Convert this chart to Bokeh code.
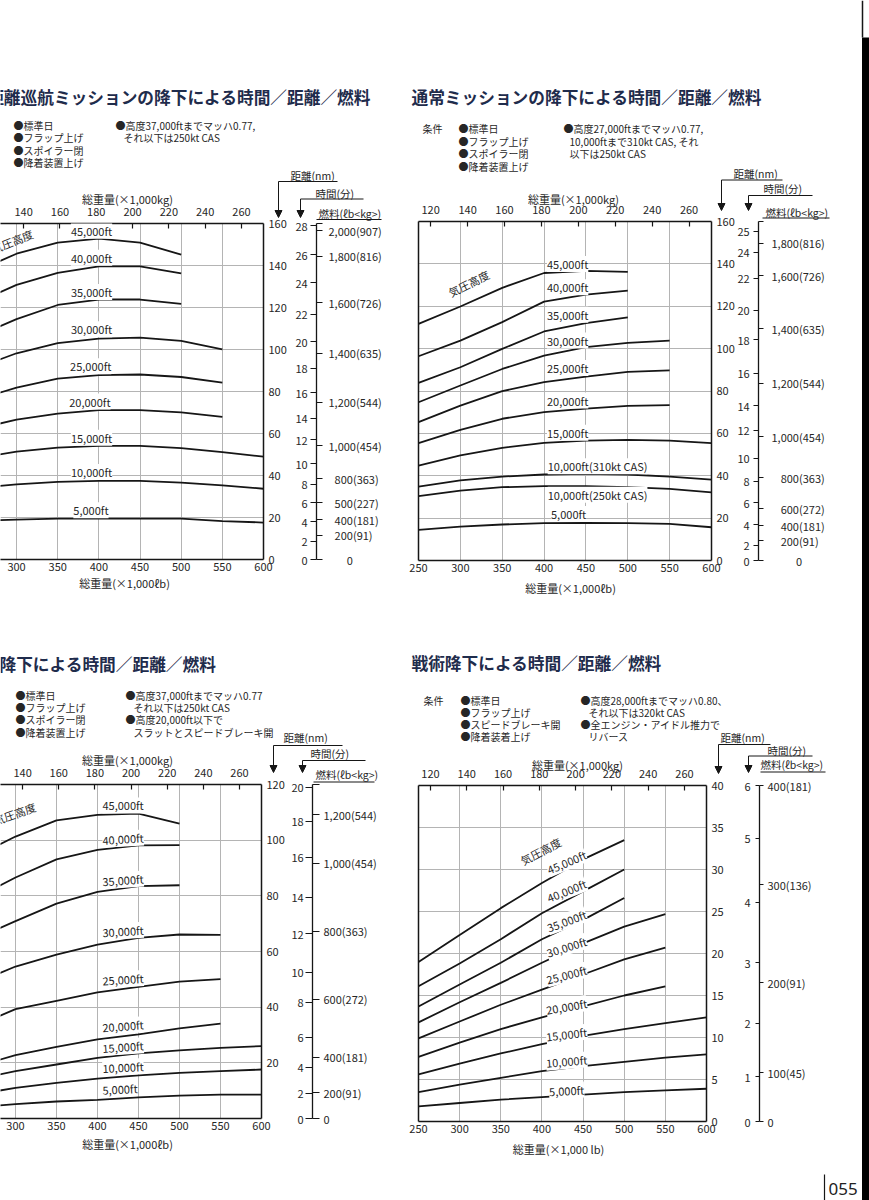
from bokeh.plotting import figure
from bokeh.models import (Range1d, LinearAxis, FixedTicker, CustomJSTickFormatter,
                          Label, Arrow, NormalHead, Grid, GridBox)
from bokeh.embed import file_html
from bokeh.resources import INLINE

KG_PER_KLB = 0.45359237
JP = "Noto Sans CJK JP"
INK = "#161616"
TXT = "#262626"
NAVY = "#1f2c4c"
GRIDC = "#b4b4b4"

# ---------------- shared axis values ----------------
LB_TICKS = [250, 300, 350, 400, 450, 500, 550, 600]
KG_TICKS = [120, 140, 160, 180, 200, 220, 240, 260]
LB_GRID = [300, 350, 400, 450, 500, 550]
W500 = [250, 300, 350, 400, 450, 500]
W550 = [250, 300, 350, 400, 450, 500, 550]
W600 = [250, 300, 350, 400, 450, 500, 550, 600]
ALT = ["45,000ft", "40,000ft", "35,000ft", "30,000ft", "25,000ft",
       "20,000ft", "15,000ft", "10,000ft", "5,000ft"]

# ---------------- panel A: long-range cruise (top-left) ----------------
A_45 = [137.0, 145.6, 150.9, 152.8, 150.9, 145.2]
A_40 = [122.0, 130.8, 136.5, 139.6, 139.6, 136.2]
A_35 = [106.0, 114.5, 121.2, 123.8, 123.8, 121.7]
A_30 = [91.0, 98.2, 103.0, 105.2, 105.7, 104.1, 100.1]
A_25 = [76.0, 81.8, 86.1, 87.8, 88.1, 86.9, 84.2]
A_20 = [62.0, 66.6, 69.5, 71.1, 71.1, 70.1, 67.9]
A_15 = [48.0, 51.4, 53.3, 54.1, 54.1, 53.0, 51.1, 49.0]
A_10 = [34.0, 35.8, 37.0, 37.4, 37.4, 36.6, 35.3, 33.7]
A_05 = [18.3, 19.0, 19.5, 19.5, 19.5, 19.5, 18.3, 17.6]
A_DIST = [0, 20, 40, 60, 80, 100, 120, 140, 160]
A_TIME = [0, 2, 4, 6, 8, 10, 12, 14, 16, 18, 20, 22, 24, 26, 28]
A_TIME_NM = [0, 8.8, 17.9, 27.0, 35.9, 45.5, 57.0, 67.2, 79.5, 91.0, 103.6, 116.9, 131.7, 145.1, 159.0]
A_FUEL = ["2,000(907)", "1,800(816)", "1,600(726)", "1,400(635)", "1,200(544)",
          "1,000(454)", "800(363)", "500(227)", "400(181)", "200(91)", "0"]
A_FUEL_NM = [156.5, 144.5, 122.2, 98.1, 74.9, 54.1, 38.5, 27.0, 19.0, 11.5, 0]

# ---------------- panel B: normal mission (top-right) ----------------
B_45 = [111.7, 119.9, 128.7, 135.7, 136.7, 136.2]
B_40 = [96.4, 103.8, 112.5, 122.2, 125.5, 127.4]
B_35 = [83.8, 91.2, 99.9, 108.1, 112.0, 114.8]
B_30 = [74.7, 82.6, 90.4, 96.7, 100.7, 102.7, 103.8]
B_25 = [65.3, 73.1, 79.9, 84.2, 86.8, 89.0, 89.7]
B_20 = [55.4, 61.7, 66.9, 70.0, 71.7, 73.0, 73.3]
B_15 = [44.8, 49.6, 53.2, 55.5, 56.6, 56.9, 56.6, 55.4]
B_10_310 = [34.9, 37.8, 39.6, 40.6, 40.9, 40.6, 39.6, 38.2]
B_10_250 = [30.4, 33.0, 34.6, 35.1, 35.1, 34.6, 33.8, 32.2]
B_05 = [14.5, 16.0, 17.0, 17.6, 17.7, 17.6, 17.3, 15.7]
B_NAMES = ["45,000ft", "40,000ft", "35,000ft", "30,000ft", "25,000ft", "20,000ft",
           "15,000ft", "10,000ft(310kt CAS)", "10,000ft(250kt CAS)", "5,000ft"]
B_DIST = [0, 20, 40, 60, 80, 100, 120, 140, 160]
B_TIME = [0, 2, 4, 6, 8, 10, 12, 14, 16, 18, 20, 22, 24, 25]
B_TIME_NM = [0, 7.1, 16.8, 27.2, 37.4, 48.3, 61.4, 73.1, 88.4, 104.2, 118.0, 133.2, 145.5, 155.4]
B_FUEL = ["1,800(816)", "1,600(726)", "1,400(635)", "1,200(544)", "1,000(454)",
          "800(363)", "600(272)", "400(181)", "200(91)", "0"]
B_FUEL_NM = [149.7, 134.5, 109.3, 83.7, 58.5, 39.0, 24.4, 16.5, 9.4, 0]

# ---------------- panel C: descent with slats/speed brake (bottom-left) ----------------
C_45 = [94.0, 101.3, 107.1, 109.1, 109.5, 105.9]
C_40 = [79.0, 86.6, 93.1, 96.5, 98.1, 98.2]
C_35 = [64.5, 70.9, 77.2, 81.4, 83.5, 83.8]
C_30 = [48.5, 54.6, 58.9, 62.5, 64.9, 66.1, 66.0]
C_25 = [33.0, 39.3, 42.3, 45.3, 47.3, 49.2, 50.1]
C_20 = [18.5, 22.8, 25.7, 28.4, 30.2, 32.4, 34.1]
C_15 = [14.0, 17.0, 19.4, 21.8, 23.4, 24.5, 25.4, 26.0]
C_10 = [8.5, 11.0, 12.8, 14.3, 15.5, 16.4, 17.0, 17.6]
C_05 = [4.0, 5.2, 6.1, 6.7, 7.6, 8.2, 8.6, 8.6]
C_DIST = [20, 40, 60, 80, 100, 120]
C_TIME = [0, 2, 4, 6, 8, 10, 12, 14, 16, 18, 20]
C_TIME_NM = [0, 9.1, 18.4, 29.2, 41.8, 52.6, 66.4, 79.5, 93.9, 106.8, 119.0]
C_FUEL = ["1,200(544)", "1,000(454)", "800(363)", "600(272)", "400(181)", "200(91)", "0"]
C_FUEL_NM = [109.2, 91.7, 67.2, 42.8, 22.0, 9.2, 0]

# ---------------- panel D: tactical descent (bottom-right) ----------------
D_45 = [19.0, 22.2, 25.4, 28.4, 31.2, 33.5]
D_40 = [16.1, 18.8, 21.7, 24.8, 27.4, 30.0]
D_35 = [13.7, 16.3, 18.9, 21.7, 24.0, 26.6]
D_30 = [11.8, 14.2, 16.5, 18.9, 21.2, 23.2, 24.7]
D_25 = [9.9, 11.9, 13.9, 15.7, 17.5, 19.3, 20.7]
D_20 = [7.7, 9.4, 11.0, 12.4, 13.7, 15.0, 16.1]
D_15 = [5.6, 6.9, 8.1, 9.2, 10.2, 11.0, 11.7, 12.4]
D_10 = [3.5, 4.4, 5.2, 6.0, 6.6, 7.1, 7.6, 8.0]
D_05 = [1.8, 2.2, 2.6, 2.9, 3.2, 3.5, 3.7, 3.9]
D_DIST = [0, 5, 10, 15, 20, 25, 30, 35, 40]
D_TIME = [0, 1, 2, 3, 4, 5, 6]
D_TIME_NM = [0, 5.3, 11.7, 18.9, 26.1, 33.7, 40.0]
D_FUEL = ["400(181)", "300(136)", "200(91)", "100(45)", "0"]
D_FUEL_NM = [40.0, 28.2, 16.5, 5.8, 0]

FIG_SP = "\u2007"
PUNC_SP = "\u2008"


def no_align(p):
    try:
        p.frame_align = False
    except AttributeError:
        pass


def fmt(vals, labs):
    return CustomJSTickFormatter(args=dict(vals=list(vals), labs=list(labs)), code="""
        const k = vals.findIndex(v => Math.abs(v - tick) < 1e-6);
        return k >= 0 ? labs[k] : "";
    """)


def time_labels(vals, width):
    return [FIG_SP * (width - len(str(v))) + str(v) + FIG_SP for v in vals]


def fuel_labels(labs, style):
    out = []
    for s in labs:
        n = len(s.split("(")[0])
        if style == "A":
            pad = {5: "", 3: FIG_SP, 1: FIG_SP * 3}[n]
        elif style == "B":
            pad = {5: "", 3: FIG_SP + PUNC_SP, 1: FIG_SP * 4}[n]
        else:
            pad = ""
        out.append(pad + s)
    return out


def style_axis(ax, standoff):
    ax.axis_line_color = INK
    ax.axis_line_width = 1.5
    ax.major_label_text_font = JP
    ax.major_label_text_font_size = "11px"
    ax.major_label_text_color = TXT
    ax.major_label_standoff = standoff
    ax.minor_tick_line_color = None
    ax.major_tick_line_color = INK
    ax.major_tick_line_width = 1.2


def build(ox, oy, W, H, FL, FR, FT, FB, x0, ymax, dist_ticks,
          time_min, time_nm, time_w, fuel_lbl, fuel_nm, fuel_style,
          time_so, fuel_so, tick_len, left_edge):
    p = figure(width=W, height=H, output_backend="svg", toolbar_location=None,
               x_range=Range1d(x0, 600), y_range=Range1d(0, ymax),
               x_axis_location=None, y_axis_location=None,
               min_border_left=FL - ox, min_border_right=ox + W - FR,
               min_border_top=FT - oy, min_border_bottom=oy + H - FB,
               outline_line_color=None, background_fill_color="white",
               border_fill_color="white")
    no_align(p)
    p.extra_x_ranges = {"kg": Range1d(x0 * KG_PER_KLB, 600 * KG_PER_KLB)}
    p.grid.visible = False
    p.add_layout(Grid(dimension=0, ticker=FixedTicker(ticks=LB_GRID),
                      grid_line_color=GRIDC, grid_line_width=1))
    p.add_layout(Grid(dimension=1, ticker=FixedTicker(ticks=[t for t in dist_ticks if 0 < t < ymax]),
                      grid_line_color=GRIDC, grid_line_width=1))

    bottom = LinearAxis(ticker=FixedTicker(ticks=LB_TICKS))
    style_axis(bottom, 3)
    bottom.major_tick_out = 0
    bottom.major_tick_in = 0
    p.add_layout(bottom, "below")

    top = LinearAxis(x_range_name="kg", ticker=FixedTicker(ticks=KG_TICKS))
    style_axis(top, 8)
    top.major_tick_out = 0
    top.major_tick_in = 5
    p.add_layout(top, "above")

    if left_edge:
        la = LinearAxis(ticker=FixedTicker(ticks=[]))
        style_axis(la, 0)
        la.major_tick_out = 0
        la.major_tick_in = 0
        p.add_layout(la, "left")

    dist = LinearAxis(ticker=FixedTicker(ticks=dist_ticks))
    style_axis(dist, 5)
    dist.major_tick_out = 0
    dist.major_tick_in = 0
    p.add_layout(dist, "right")

    tax = LinearAxis(ticker=FixedTicker(ticks=time_nm),
                     formatter=fmt(time_nm, time_labels(time_min, time_w)))
    style_axis(tax, time_so)
    tax.axis_line_color = None
    tax.major_tick_line_color = None
    tax.major_tick_out = 0
    tax.major_tick_in = 0
    p.add_layout(tax, "right")

    fticks = list(fuel_nm)
    flabs = fuel_labels(fuel_lbl, fuel_style)
    if ymax not in fticks:
        fticks.append(ymax)
        flabs.append("")
    fax = LinearAxis(ticker=FixedTicker(ticks=fticks, minor_ticks=list(time_nm)),
                     formatter=fmt(fticks, flabs))
    style_axis(fax, fuel_so)
    fax.axis_line_width = 1.3
    fax.major_tick_out = tick_len
    fax.major_tick_in = 0
    fax.minor_tick_line_color = INK
    fax.minor_tick_line_width = 1.2
    fax.minor_tick_in = tick_len
    fax.minor_tick_out = 0
    p.add_layout(fax, "right")
    return p


def curves(p, series):
    for xs, ys in series:
        p.line(xs, ys, line_color=INK, line_width=1.8)


def dlab(p, x, y, s, angle=0.0, align="left"):
    p.add_layout(Label(x=x, y=y, text=s, text_font=JP, text_font_size="11px",
                       text_color=TXT, text_align=align, text_baseline="middle",
                       angle=angle, background_fill_color="white"))


# ---------------- page overlay (texts and rules around the charts) ----------------
pg = figure(width=869, height=1200, output_backend="svg", toolbar_location=None,
            x_range=Range1d(0, 869), y_range=Range1d(1200, 0),
            x_axis_location=None, y_axis_location=None, min_border=0,
            outline_line_color=None, background_fill_color=None, border_fill_color=None)
no_align(pg)
pg.grid.visible = False

SEG = {"x0": [], "y0": [], "x1": [], "y1": [], "w": []}


def txt(x, y, s, size=10, bold=False, color=TXT, align="left", font=JP):
    pg.add_layout(Label(x=x, y=y, text=s, text_font=font, text_font_size=f"{size}px",
                        text_font_style="bold" if bold else "normal", text_color=color,
                        text_align=align, text_baseline="middle"))


def seg(x0, y0, x1, y1, width=1.0):
    SEG["x0"].append(x0)
    SEG["y0"].append(y0)
    SEG["x1"].append(x1)
    SEG["y1"].append(y1)
    SEG["w"].append(width)


def arrow(x, y0, y1):
    pg.add_layout(Arrow(x_start=x, y_start=y0, x_end=x, y_end=y1, start=None,
                        end=NormalHead(size=7, line_color=INK, fill_color=INK, line_width=1),
                        line_color=INK, line_width=1))


def header(d_txt, d_line, d_x, d_tip, t_txt, t_line, t_x, t_tip, f_txt, f_line):
    txt(d_txt[0], d_txt[1], "距離(nm)", size=10.5)
    seg(*d_line)
    arrow(d_x, d_line[1], d_tip)
    txt(t_txt[0], t_txt[1], "時間(分)", size=10.5)
    seg(*t_line)
    arrow(t_x, t_line[1], t_tip)
    txt(f_txt[0], f_txt[1], "燃料(ℓb<kg>)", size=10.5)
    seg(*f_line, width=1.2)


# ================= panel A =================
pA = build(0, 0, 400, 620, 0, 263, 223, 559, 280.5, 160, A_DIST,
           A_TIME, A_TIME_NM, 2, A_FUEL, A_FUEL_NM, "A",
           time_so=6, fuel_so=6, tick_len=6, left_edge=False)
curves(pA, [(W500, A_45), (W500, A_40), (W500, A_35), (W550, A_30), (W550, A_25),
            (W550, A_20), (W600, A_15), (W600, A_10), (W600, A_05)])
for name, lx, ly in zip(ALT, [366, 366, 366, 366, 365, 364, 366, 366, 369],
                        [156.6, 143.7, 127.4, 109.7, 92.0, 75.2, 58.0, 41.7, 23.5]):
    dlab(pA, lx, ly, name)
pA.add_layout(Label(x=294.5, y=151.6, text="気圧高度", text_font=JP, text_font_size="11px",
                    text_color=TXT, text_align="center", text_baseline="middle", angle=0.38))
txt(-30, 96, "長距離巡航ミッションの降下による時間／距離／燃料", size=16.7, bold=True, color=NAVY)
for i, s in enumerate(["●標準日", "●フラップ上げ", "●スポイラー閉", "●降着装置上げ"]):
    txt(13, 125 + 12.4 * i, s)
txt(115, 125, "●高度37,000ftまでマッハ0.77,")
txt(123, 137.4, "それ以下は250kt CAS")
txt(127, 198, "総重量(×1,000kg)", size=11, align="center")
txt(124, 582, "総重量(×1,000ℓb)", size=11, align="center")
header((290, 175), (278, 181, 337, 181), 278, 217,
       (315, 193), (300, 198.5, 363, 198.5), 300, 217,
       (318, 212.5), (316, 219, 381, 219))

# ================= panel B =================
pB = build(400, 0, 469, 620, 418, 711, 221, 560, 250, 160, B_DIST,
           B_TIME, B_TIME_NM, 2, B_FUEL, B_FUEL_NM, "B",
           time_so=0, fuel_so=8, tick_len=5, left_edge=True)
curves(pB, [(W500, B_45), (W500, B_40), (W500, B_35), (W550, B_30), (W550, B_25),
            (W550, B_20), (W600, B_15), (W600, B_10_310), (W600, B_10_250), (W600, B_05)])
for name, lx, ly in zip(B_NAMES, [403.5] * 7 + [404.3, 404.3, 408.3],
                        [140.0, 129.0, 116.0, 103.8, 90.8, 75.5, 60.3, 44.5, 31.0, 22.0]):
    dlab(pB, lx, ly, name)
pB.add_layout(Label(x=310, y=130.9, text="気圧高度", text_font=JP, text_font_size="11px",
                    text_color=TXT, text_align="center", text_baseline="middle", angle=0.46))
txt(411, 96.5, "通常ミッションの降下による時間／距離／燃料", size=16.7, bold=True, color=NAVY)
txt(422, 128, "条件")
for i, s in enumerate(["●標準日", "●フラップ上げ", "●スポイラー閉", "●降着装置上げ"]):
    txt(458, 128 + 12.7 * i, s)
txt(563, 128, "●高度27,000ftまでマッハ0.77,")
txt(569, 140.7, "10,000ftまで310kt CAS, それ")
txt(569, 153.4, "以下は250kt CAS")
txt(573, 198, "総重量(×1,000kg)", size=11, align="center")
txt(570, 587, "総重量(×1,000ℓb)", size=11, align="center")
header((733, 173), (721, 179.5, 782, 179.5), 721, 210,
       (763, 188), (748, 195, 812, 195), 748, 210,
       (765, 211.5), (762, 217.5, 829, 217.5))

# ================= panel C =================
pC = build(0, 620, 400, 580, 0, 261, 784, 1118, 281.7, 120, C_DIST,
           C_TIME, C_TIME_NM, 2, C_FUEL, C_FUEL_NM, "C",
           time_so=4, fuel_so=4, tick_len=7, left_edge=False)
curves(pC, [(W500, C_45), (W500, C_40), (W500, C_35), (W550, C_30), (W550, C_25),
            (W550, C_20), (W600, C_15), (W600, C_10), (W600, C_05)])
for name, ly, ang in zip(ALT, [112.5, 100.1, 85.2, 66.9, 49.6, 32.8, 25.3, 18.1, 10.3],
                         [0.0, 0.06, 0.07, 0.06, 0.06, 0.07, 0.07, 0.05, 0.05]):
    dlab(pC, 406, ly, name, angle=ang)
pC.add_layout(Label(x=298.8, y=109.6, text="気圧高度", text_font=JP, text_font_size="11px",
                    text_color=TXT, text_align="center", text_baseline="middle", angle=0.34))
txt(-1, 663, "降下による時間／距離／燃料", size=16.7, bold=True, color=NAVY)
for i, s in enumerate(["●標準日", "●フラップ上げ", "●スポイラー閉", "●降着装置上げ"]):
    txt(15, 695 + 12.2 * i, s)
txt(125, 695, "●高度37,000ftまでマッハ0.77")
txt(133, 707.2, "それ以下は250kt CAS")
txt(125, 719.4, "●高度20,000ft以下で")
txt(133, 731.6, "スラットとスピードブレーキ開")
txt(127, 759.5, "総重量(×1,000kg)", size=11, align="center")
txt(127, 1143, "総重量(×1,000ℓb)", size=11, align="center")
header((283, 737), (273, 745, 342, 745), 273, 772,
       (310, 753), (302, 760, 365, 760), 302, 772,
       (315, 773.5), (313, 781.5, 374, 781.5))

# ================= panel D =================
pD = build(400, 620, 469, 580, 418, 706, 785, 1121, 250, 40, D_DIST,
           D_TIME, D_TIME_NM, 1, D_FUEL, D_FUEL_NM, "D",
           time_so=18, fuel_so=4, tick_len=4, left_edge=True)
curves(pD, [(W500, D_45), (W500, D_40), (W500, D_35), (W550, D_30), (W550, D_25),
            (W550, D_20), (W600, D_15), (W600, D_10), (W600, D_05)])
for name, ly, ang in zip(ALT, [30.9, 27.5, 23.9, 20.8, 17.5, 13.7, 10.4, 7.2, 3.7],
                         [0.40, 0.38, 0.35, 0.30, 0.25, 0.17, 0.12, 0.08, 0.05]):
    dlab(pD, 430, ly, name, angle=ang, align="center")
pD.add_layout(Label(x=398.4, y=32.2, text="気圧高度", text_font=JP, text_font_size="11px",
                    text_color=TXT, text_align="center", text_baseline="middle", angle=0.49))
txt(411, 662, "戦術降下による時間／距離／燃料", size=16.7, bold=True, color=NAVY)
txt(423, 700, "条件")
for i, s in enumerate(["●標準日", "●フラップ上げ", "●スピードブレーキ開", "●降着装着上げ"]):
    txt(460, 700 + 12 * i, s)
txt(580, 700, "●高度28,000ftまでマッハ0.80、")
txt(588, 712, "それ以下は320kt CAS")
txt(580, 724, "●全エンジン・アイドル推力で")
txt(588, 736, "リバース")
txt(577, 764, "総重量(×1,000kg)", size=11, align="center")
txt(558, 1148.5, "総重量(×1,000 lb)", size=11, align="center")
header((720, 737), (718, 744, 770, 744), 718, 773,
       (767, 750), (748, 755.5, 812, 755.5), 748, 772,
       (760, 763.5), (760, 771.5, 825, 771.5))

# page furniture: black book edge, folio
pg.quad(left=[861.5], right=[870], top=[37], bottom=[1200], fill_color="black", line_color=None)
seg(862, 0, 862, 37, width=1.5)
seg(824, 1174, 824, 1200, width=1.2)
txt(828, 1188, "055", size=17, font="Noto Sans", color="#222222")
pg.segment(x0="x0", y0="y0", x1="x1", y1="y1", line_width="w", line_color=INK, source=SEG)

layout = GridBox(children=[(pA, 0, 0), (pB, 0, 1), (pC, 1, 0), (pD, 1, 1), (pg, 0, 0, 2, 2)],
                 spacing=0)
open("out.html", "w").write(file_html(layout, INLINE))
